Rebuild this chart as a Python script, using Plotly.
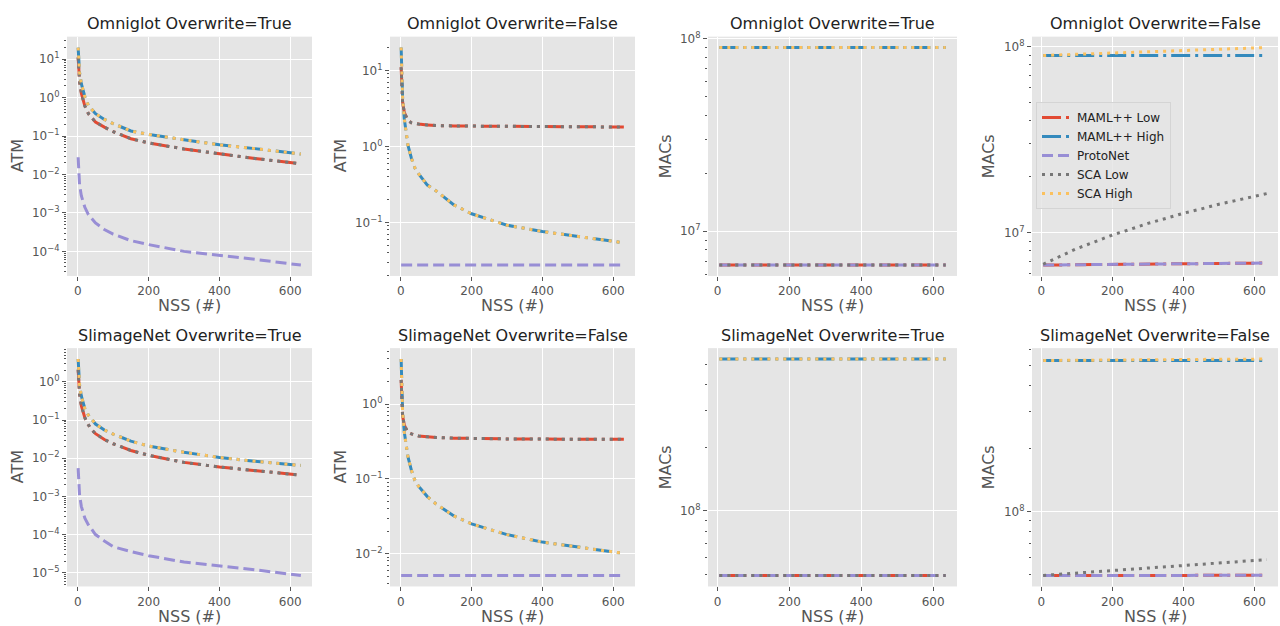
import math
import plotly.graph_objects as go

# ---------------- data ----------------
SERIES = ["MAML++ Low", "MAML++ High", "ProtoNet", "SCA Low", "SCA High"]

NSS_ATM = [1, 5, 10, 20, 30, 40, 50, 75, 100, 150, 200, 300, 400, 500, 630]
NSS_MACS = [5, 50, 100, 150, 200, 250, 300, 350, 400, 450, 500, 550, 600, 635]

# Omniglot, Overwrite=True, ATM
OMNI_T_ATM_LOW = [11, 2.6, 1.3, 0.6, 0.38, 0.29, 0.23, 0.17, 0.13, 0.085, 0.066, 0.046, 0.034, 0.026, 0.019]
OMNI_T_ATM_HIGH = [20, 4.5, 2.3, 1.05, 0.62, 0.47, 0.38, 0.27, 0.21, 0.135, 0.11, 0.08, 0.059, 0.047, 0.034]
OMNI_T_ATM_PROTO = [0.028, 0.0055, 0.0028, 0.0014, 0.0009, 0.0007, 0.00055, 0.00037, 0.00028,
                    0.00019, 0.00015, 0.0001, 0.00008, 0.000062, 0.000044]

# Omniglot, Overwrite=False, ATM
OMNI_F_ATM_LOW = [11, 3.9, 2.8, 2.2, 2.05, 2.0, 1.97, 1.92, 1.88, 1.86, 1.85, 1.83, 1.82, 1.81, 1.8]
OMNI_F_ATM_HIGH = [20, 4.5, 2.3, 1.05, 0.7, 0.52, 0.44, 0.31, 0.26, 0.17, 0.13, 0.092, 0.076, 0.066, 0.054]
OMNI_F_ATM_PROTO = [0.0275, 0.0275, 0.0275, 0.0275, 0.0275, 0.0275, 0.0275, 0.0275, 0.0275,
                    0.0275, 0.0275, 0.0275, 0.0275, 0.0275, 0.0275]

# SlimageNet, Overwrite=True, ATM
SLIM_T_ATM_LOW = [2.1, 0.48, 0.24, 0.115, 0.075, 0.055, 0.044, 0.031, 0.024, 0.016, 0.012, 0.0078, 0.0059, 0.0047, 0.0036]
SLIM_T_ATM_HIGH = [4.0, 0.85, 0.43, 0.2, 0.135, 0.1, 0.079, 0.055, 0.043, 0.028, 0.021, 0.0143, 0.0105, 0.0083, 0.0065]
SLIM_T_ATM_PROTO = [0.0055, 0.0011, 0.00055, 0.00027, 0.00018, 0.00013, 0.0001, 0.000068, 0.000048,
                    0.000036, 0.000028, 0.000019, 0.000015, 0.000012, 0.0000084]

# SlimageNet, Overwrite=False, ATM
SLIM_F_ATM_LOW = [2.1, 0.7, 0.52, 0.42, 0.4, 0.385, 0.375, 0.365, 0.357, 0.35, 0.345, 0.342, 0.34, 0.34, 0.338]
SLIM_F_ATM_HIGH = [4.0, 0.8, 0.42, 0.2, 0.13, 0.095, 0.08, 0.058, 0.046, 0.032, 0.025, 0.018, 0.0143, 0.0122, 0.0101]
SLIM_F_ATM_PROTO = [0.0051, 0.0051, 0.0051, 0.0051, 0.0051, 0.0051, 0.0051, 0.0051, 0.0051,
                    0.0051, 0.0051, 0.0051, 0.0051, 0.0051, 0.0051]

# Omniglot, Overwrite=True, MACs
OMNI_T_MACS_LOW = [6.68e6, 6.68e6, 6.68e6, 6.68e6, 6.68e6, 6.68e6, 6.68e6,
                   6.68e6, 6.68e6, 6.68e6, 6.68e6, 6.68e6, 6.68e6, 6.68e6]
OMNI_T_MACS_HIGH = [8.96e7, 8.96e7, 8.96e7, 8.96e7, 8.96e7, 8.96e7, 8.96e7,
                    8.96e7, 8.96e7, 8.96e7, 8.96e7, 8.96e7, 8.96e7, 8.96e7]

# Omniglot, Overwrite=False, MACs
OMNI_F_MACS_LOW = [6.68e6, 6.70e6, 6.71e6, 6.72e6, 6.73e6, 6.75e6, 6.76e6,
                   6.78e6, 6.79e6, 6.80e6, 6.81e6, 6.83e6, 6.84e6, 6.85e6]
OMNI_F_MACS_HIGH = [8.96e7, 8.96e7, 8.96e7, 8.96e7, 8.96e7, 8.96e7, 8.96e7,
                    8.96e7, 8.96e7, 8.96e7, 8.96e7, 8.96e7, 8.96e7, 8.96e7]
OMNI_F_MACS_SCA_LOW = [6.75e6, 7.4e6, 8.2e6, 8.9e6, 9.7e6, 1.04e7, 1.12e7,
                       1.19e7, 1.27e7, 1.34e7, 1.42e7, 1.49e7, 1.57e7, 1.62e7]
OMNI_F_MACS_SCA_HIGH = [8.97e7, 9.03e7, 9.10e7, 9.18e7, 9.25e7, 9.33e7, 9.40e7,
                        9.48e7, 9.55e7, 9.63e7, 9.70e7, 9.78e7, 9.85e7, 9.90e7]

# SlimageNet, Overwrite=True, MACs
SLIM_T_MACS_LOW = [4.92e7, 4.92e7, 4.92e7, 4.92e7, 4.92e7, 4.92e7, 4.92e7,
                   4.92e7, 4.92e7, 4.92e7, 4.92e7, 4.92e7, 4.92e7, 4.92e7]
SLIM_T_MACS_HIGH = [5.29e8, 5.29e8, 5.29e8, 5.29e8, 5.29e8, 5.29e8, 5.29e8,
                    5.29e8, 5.29e8, 5.29e8, 5.29e8, 5.29e8, 5.29e8, 5.29e8]

# SlimageNet, Overwrite=False, MACs
SLIM_F_MACS_LOW = [4.92e7, 4.92e7, 4.92e7, 4.92e7, 4.93e7, 4.93e7, 4.93e7,
                   4.93e7, 4.93e7, 4.94e7, 4.94e7, 4.94e7, 4.94e7, 4.94e7]
SLIM_F_MACS_HIGH = [5.29e8, 5.29e8, 5.29e8, 5.29e8, 5.29e8, 5.29e8, 5.29e8,
                    5.29e8, 5.29e8, 5.29e8, 5.29e8, 5.29e8, 5.29e8, 5.29e8]
SLIM_F_MACS_SCA_LOW = [4.93e7, 4.99e7, 5.07e7, 5.14e7, 5.22e7, 5.29e7, 5.37e7,
                       5.44e7, 5.52e7, 5.59e7, 5.67e7, 5.74e7, 5.82e7, 5.87e7]
SLIM_F_MACS_SCA_HIGH = [5.29e8, 5.30e8, 5.31e8, 5.31e8, 5.32e8, 5.33e8, 5.33e8,
                        5.34e8, 5.35e8, 5.35e8, 5.36e8, 5.37e8, 5.37e8, 5.38e8]

TITLES = ["Omniglot Overwrite=True", "Omniglot Overwrite=False",
          "Omniglot Overwrite=True", "Omniglot Overwrite=False",
          "SlimageNet Overwrite=True", "SlimageNet Overwrite=False",
          "SlimageNet Overwrite=True", "SlimageNet Overwrite=False"]
YLABELS = ["ATM", "ATM", "MACs", "MACs", "ATM", "ATM", "MACs", "MACs"]
XLABEL = "NSS (#)"
XTICKS = [0, 200, 400, 600]
YTICK_EXPONENTS = list(range(-6, 10))
YTICK_LABELS = ["10<sup>%s</sup>" % (str(e).replace("-", "\u2212")) for e in YTICK_EXPONENTS]

PANELS = [
    (NSS_ATM, [OMNI_T_ATM_LOW, OMNI_T_ATM_HIGH, OMNI_T_ATM_PROTO, OMNI_T_ATM_LOW, OMNI_T_ATM_HIGH]),
    (NSS_ATM, [OMNI_F_ATM_LOW, OMNI_F_ATM_HIGH, OMNI_F_ATM_PROTO, OMNI_F_ATM_LOW, OMNI_F_ATM_HIGH]),
    (NSS_MACS, [OMNI_T_MACS_LOW, OMNI_T_MACS_HIGH, OMNI_T_MACS_LOW, OMNI_T_MACS_LOW, OMNI_T_MACS_HIGH]),
    (NSS_MACS, [OMNI_F_MACS_LOW, OMNI_F_MACS_HIGH, OMNI_F_MACS_LOW, OMNI_F_MACS_SCA_LOW, OMNI_F_MACS_SCA_HIGH]),
    (NSS_ATM, [SLIM_T_ATM_LOW, SLIM_T_ATM_HIGH, SLIM_T_ATM_PROTO, SLIM_T_ATM_LOW, SLIM_T_ATM_HIGH]),
    (NSS_ATM, [SLIM_F_ATM_LOW, SLIM_F_ATM_HIGH, SLIM_F_ATM_PROTO, SLIM_F_ATM_LOW, SLIM_F_ATM_HIGH]),
    (NSS_MACS, [SLIM_T_MACS_LOW, SLIM_T_MACS_HIGH, SLIM_T_MACS_LOW, SLIM_T_MACS_LOW, SLIM_T_MACS_HIGH]),
    (NSS_MACS, [SLIM_F_MACS_LOW, SLIM_F_MACS_HIGH, SLIM_F_MACS_LOW, SLIM_F_MACS_SCA_LOW, SLIM_F_MACS_SCA_HIGH]),
]

# ---------------- styles / layout ----------------
W, H = 1280, 626
COLORS = ["#E24A33", "#348ABD", "#988ED5", "#777777", "#FBC15E"]
DASHES = ["19px,5px,3px,5px", "19px,5px,3px,5px", "11px,5px", "3px,5px", "3px,5px"]
FONT = "DejaVu Sans"
TICKC = "#555555"

COL_X = [(67, 312), (390, 635), (708, 957), (1032, 1278)]
ROW_Y = [(30, 272), (345, 586)]
YTITLE_X = [17, 340, 665, 988]
TITLE_Y = [17, 332]
XTITLE_Y = [302, 616]

fig = go.Figure()
annotations = []
layout = {}

minor_vals = []
for e in range(-7, 10):
    for d in range(2, 10):
        minor_vals.append(d * 10 ** e)


def padded(vals, log):
    lo, hi = min(vals), max(vals)
    if log:
        lo, hi = math.log10(lo), math.log10(hi)
    span = hi - lo
    return [lo - 0.05 * span, hi + 0.05 * span]


for p, (xs, ys_list) in enumerate(PANELS):
    r, c = divmod(p, 4)
    idx = p + 1
    xn = "x" if idx == 1 else "x%d" % idx
    yn = "y" if idx == 1 else "y%d" % idx
    for s, (name, ys) in enumerate(zip(SERIES, ys_list)):
        fig.add_trace(go.Scatter(
            x=xs, y=ys, name=name, mode="lines", xaxis=xn, yaxis=yn,
            line=dict(color=COLORS[s], width=3, dash=DASHES[s]),
            showlegend=(p == 3), legendrank=s + 1,
        ))
    all_y = [v for ys in ys_list for v in ys]
    x0, x1 = COL_X[c]
    yt, yb = ROW_Y[r]
    layout["xaxis" if idx == 1 else "xaxis%d" % idx] = dict(
        domain=[x0 / W, x1 / W], anchor=yn, range=padded(xs, False),
        tickmode="array", tickvals=XTICKS, ticks="outside", ticklen=4,
        tickcolor=TICKC, tickfont=dict(family=FONT, size=12, color=TICKC),
        showgrid=True, gridcolor="white", gridwidth=1, zeroline=False,
        showline=False,
    )
    layout["yaxis" if idx == 1 else "yaxis%d" % idx] = dict(
        domain=[1 - yb / H, 1 - yt / H], anchor=xn, type="log",
        range=padded(all_y, True),
        tickmode="array", tickvals=[10.0 ** e for e in YTICK_EXPONENTS], ticktext=YTICK_LABELS,
        ticks="outside", ticklen=4, tickcolor=TICKC,
        tickfont=dict(family=FONT, size=12, color=TICKC),
        showgrid=True, gridcolor="white", gridwidth=1, zeroline=False, showline=False,
        minor=dict(tickmode="array", tickvals=minor_vals, ticks="outside", ticklen=2,
                   tickcolor=TICKC, showgrid=False),
    )
    cx = (x0 + x1) / 2
    annotations.append(dict(text=TITLES[p], x=cx / W, y=1 - TITLE_Y[r] / H, xref="paper", yref="paper",
                            showarrow=False, xanchor="center", yanchor="middle",
                            font=dict(family=FONT, size=16, color="#222222")))
    annotations.append(dict(text=XLABEL, x=cx / W, y=1 - XTITLE_Y[r] / H, xref="paper", yref="paper",
                            showarrow=False, xanchor="center", yanchor="middle",
                            font=dict(family=FONT, size=16, color=TICKC)))
    annotations.append(dict(text=YLABELS[p], x=YTITLE_X[c] / W, y=1 - ((yt + yb) / 2) / H,
                            xref="paper", yref="paper", showarrow=False, textangle=-90,
                            xanchor="center", yanchor="middle",
                            font=dict(family=FONT, size=16, color=TICKC)))

fig.update_layout(
    width=W, height=H, margin=dict(l=0, r=0, t=0, b=0),
    paper_bgcolor="white", plot_bgcolor="#E5E5E5",
    font=dict(family=FONT, size=12, color=TICKC),
    annotations=annotations,
    legend=dict(x=1036 / W, y=1 - 96 / H, xanchor="left", yanchor="top",
                bgcolor="rgba(229,229,229,0.85)", bordercolor="#d4d4d4", borderwidth=1,
                font=dict(family=FONT, size=12, color="#222222"),
                itemwidth=30, tracegroupgap=0),
    **layout,
)

fig.write_html(
    "out.html",
    config={"displayModeBar": False},
    post_script="document.body.style.margin='0';document.body.style.padding='0';"
                "document.body.style.overflow='hidden';",
)
